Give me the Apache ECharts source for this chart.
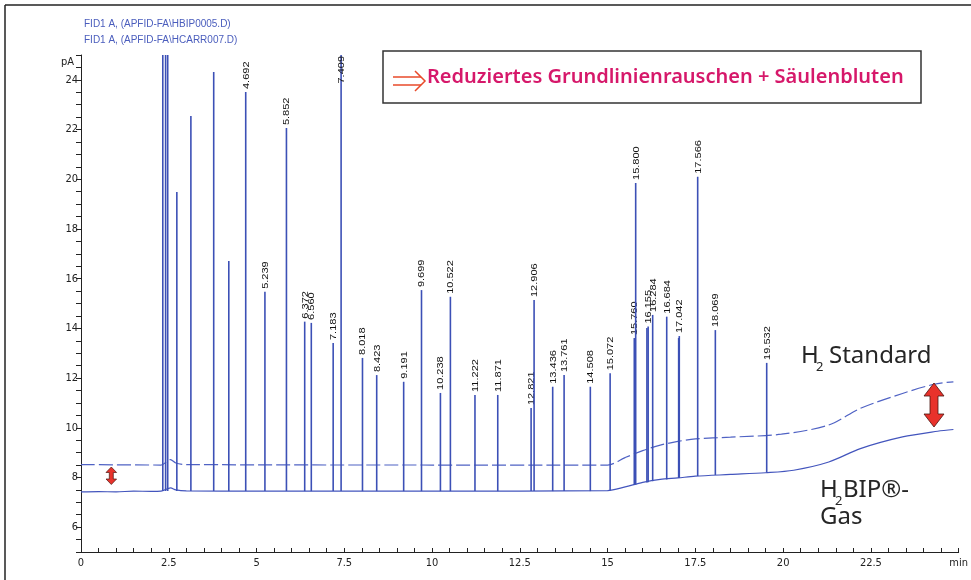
<!DOCTYPE html>
<html>
<head>
<meta charset="utf-8">
<script src="https://cdn.jsdelivr.net/npm/echarts@6/dist/echarts.min.js"></script>
<style>
html,body{margin:0;padding:0;background:#fff;}
#chart{width:971px;height:580px;}
</style>
</head>
<body>
<div id="chart"></div>
<script>
// ---- data ----
const legendLines = ['FID1 A, (APFID-FA\\HBIP0005.D)', 'FID1 A, (APFID-FA\\HCARR007.D)'];
const xTickValues = [0, 2.5, 5, 7.5, 10, 12.5, 15, 17.5, 20, 22.5, 25];
const xTickLabels = ['0', '2.5', '5', '7.5', '10', '12.5', '15', '17.5', '20', '22.5', 'min'];
const yTickLabels = ['6', '8', '10', '12', '14', '16', '18', '20', '22', '24'];

// baseline of the H2 BIP gas trace (solid)
const bipTimes = [0, 0.5, 1.0, 1.5, 2.0, 2.28, 2.55, 2.7, 3.0, 5, 10, 15.0, 15.5, 16.0, 16.5, 17.0, 17.5, 18.5, 19.5, 20.3, 21.3, 22.2, 23.4, 24.4, 24.85];
const bipValues = [7.42, 7.43, 7.42, 7.45, 7.44, 7.45, 7.58, 7.5, 7.46, 7.45, 7.45, 7.47, 7.62, 7.8, 7.92, 7.98, 8.05, 8.12, 8.19, 8.29, 8.62, 9.16, 9.63, 9.86, 9.93];

// baseline of the H2 standard trace (dashed)
const stdTimes = [0, 2.28, 2.55, 2.7, 3.0, 10, 15.0, 15.5, 16.0, 16.5, 17.0, 17.5, 18.5, 19.95, 21.3, 22.2, 23.4, 24.3, 24.85];
const stdValues = [8.52, 8.5, 8.72, 8.58, 8.52, 8.5, 8.5, 8.8, 9.08, 9.3, 9.45, 9.55, 9.62, 9.74, 10.11, 10.78, 11.38, 11.75, 11.85];

// peaks: retention time, apex (pA), foot (pA), label
const peakTimes = [2.33, 2.41, 2.47, 2.73, 3.13, 3.78, 4.21, 4.692, 5.239, 5.852, 6.372, 6.560, 7.183, 7.409, 8.018, 8.423, 9.191, 9.699, 10.238, 10.522, 11.222, 11.871, 12.821, 12.906, 13.436, 13.761, 14.508, 15.072, 15.760, 15.800, 16.120, 16.155, 16.284, 16.684, 17.024, 17.042, 17.566, 18.069, 19.532];
const peakTops = [26, 26, 26, 19.49, 22.55, 24.32, 16.71, 23.51, 15.47, 22.06, 14.27, 14.22, 13.41, 26, 12.81, 12.12, 11.85, 15.54, 11.40, 15.27, 11.32, 11.32, 10.79, 15.14, 11.65, 12.12, 11.65, 12.19, 13.61, 19.85, 14.01, 14.07, 14.54, 14.47, 13.61, 13.69, 20.10, 13.93, 12.61];
const peakFeet = [7.45, 7.45, 7.45, 7.45, 7.45, 7.45, 7.45, 7.45, 7.45, 7.45, 7.45, 7.45, 7.45, 7.45, 7.45, 7.45, 7.45, 7.45, 7.45, 7.45, 7.45, 7.45, 7.45, 7.45, 7.45, 7.45, 7.45, 7.47, 7.7, 7.72, 7.8, 7.81, 7.85, 7.92, 7.98, 7.98, 8.06, 8.1, 8.2];
const peakLabels = [null, null, null, null, null, null, null, '4.692', '5.239', '5.852', '6.372', '6.560', '7.183', '7.409', '8.018', '8.423', '9.191', '9.699', '10.238', '10.522', '11.222', '11.871', '12.821', '12.906', '13.436', '13.761', '14.508', '15.072', '15.760', '15.800', null, '16.155', '16.284', '16.684', null, '17.042', '17.566', '18.069', '19.532'];

const Y_MIN = 5, Y_MAX = 25, X_MIN = 0, X_MAX = 25;

// ---- build ----
const bipData = bipTimes.map((t, i) => [t, bipValues[i]]);
const stdData = stdTimes.map((t, i) => [t, stdValues[i]]);
const peakData = peakTimes.map((t, i) => [t, peakTops[i], peakFeet[i]]);

const chart = echarts.init(document.getElementById('chart'), null, {renderer: 'canvas'});
const axisFont = "'Liberation Sans Narrow', 'DejaVu Sans Condensed', 'Liberation Sans', Arial, sans-serif";
const labelFont = "'Liberation Sans', Arial, sans-serif";
const textFont = "'Noto Sans', 'Open Sans', sans-serif";

function arrowPoints(cx, top, bottom, headHalf, shaftHalf, headH) {
  return [[cx, top], [cx + headHalf, top + headH], [cx + shaftHalf, top + headH], [cx + shaftHalf, bottom - headH],
          [cx + headHalf, bottom - headH], [cx, bottom], [cx - headHalf, bottom - headH], [cx - shaftHalf, bottom - headH],
          [cx - shaftHalf, top + headH], [cx - headHalf, top + headH]];
}
function word(x, y, text, size) {
  return {type: 'text', x: x, y: y, style: {text: text, fill: '#262626', font: size + 'px ' + textFont, verticalAlign: 'middle'}};
}

const option = {
  animation: false,
  backgroundColor: '#ffffff',
  grid: {left: 81, right: 10, top: 55, bottom: 28},
  xAxis: {
    type: 'value', min: X_MIN, max: X_MAX, interval: 2.5,
    axisLine: {show: true, onZero: false, lineStyle: {color: '#222', width: 1}},
    axisTick: {show: true, inside: true, length: 4, lineStyle: {color: '#222'}},
    minorTick: {show: true, splitNumber: 5, length: 4, lineStyle: {color: '#222'}},
    splitLine: {show: false},
    axisLabel: {
      margin: 6, color: '#222', fontSize: 11, fontFamily: axisFont,
      formatter: v => { const k = xTickValues.indexOf(v); return k >= 0 ? xTickLabels[k] : ''; }
    }
  },
  yAxis: {
    type: 'value', min: Y_MIN, max: Y_MAX, interval: 1,
    axisLine: {show: true, onZero: false, lineStyle: {color: '#222', width: 1}},
    axisTick: {show: true, length: 5, lineStyle: {color: '#222'}},
    minorTick: {show: true, splitNumber: 2, length: 5, lineStyle: {color: '#222'}},
    splitLine: {show: false},
    axisLabel: {
      margin: 3, color: '#222', fontSize: 11, fontFamily: axisFont,
      formatter: v => yTickLabels.indexOf(String(v)) >= 0 ? String(v) : ''
    }
  },
  series: [
    {
      name: 'H2 Standard', type: 'line', data: stdData, showSymbol: false, smooth: 0.3,
      lineStyle: {color: '#4f62c4', width: 1.2, type: [14, 4]}, z: 2
    },
    {
      name: 'H2 BIP', type: 'line', data: bipData, showSymbol: false, smooth: 0.3,
      lineStyle: {color: '#4355bd', width: 1.2}, z: 2
    },
    {
      name: 'peaks', type: 'custom', data: peakData, encode: {x: 0, y: [1, 2]}, z: 3,
      renderItem: function (params, api) {
        const i = params.dataIndex;
        const t = api.value(0);
        const rawTop = api.value(1);
        const top = Math.min(rawTop, Y_MAX);
        const foot = api.value(2);
        const p0 = api.coord([t, foot]);
        const p1 = api.coord([t, top]);
        const children = [{
          type: 'line',
          shape: {x1: p0[0], y1: p0[1], x2: p1[0], y2: p1[1]},
          style: {stroke: '#3c50b6', lineWidth: 1.6}
        }];
        const lab = peakLabels[i];
        if (lab) {
          const off = rawTop > Y_MAX;
          children.push({
            type: 'text', x: p1[0] + 0.5, y: off ? p1[1] + 1 : p1[1] - 3,
            rotation: Math.PI / 2, scaleY: 0.8,
            style: {text: lab, align: off ? 'right' : 'left', verticalAlign: 'middle',
                    fill: '#111', font: '11px ' + labelFont}
          });
        }
        return {type: 'group', children: children};
      }
    }
  ],
  graphic: [
    // outer frame (top and left)
    {type: 'line', shape: {x1: 5, y1: 5, x2: 971, y2: 5}, style: {stroke: '#222', lineWidth: 1.5}},
    {type: 'line', shape: {x1: 5, y1: 5, x2: 5, y2: 580}, style: {stroke: '#222', lineWidth: 1.5}},
    // trace legend
    {type: 'text', x: 84, y: 24.5, style: {text: legendLines[0], fill: '#4a5dbd', font: '10px ' + labelFont, verticalAlign: 'middle'}},
    {type: 'text', x: 84, y: 40, style: {text: legendLines[1], fill: '#4a5dbd', font: '10px ' + labelFont, verticalAlign: 'middle'}},
    // y unit
    {type: 'text', x: 74, y: 62, style: {text: 'pA', fill: '#222', font: '11px ' + axisFont, align: 'right', verticalAlign: 'middle'}},
    // annotation box
    {type: 'rect', shape: {x: 383, y: 51, width: 538, height: 52}, style: {fill: '#fff', stroke: '#333', lineWidth: 1.5}, z: 10},
    {type: 'line', shape: {x1: 393, y1: 77, x2: 421, y2: 77}, style: {stroke: '#e84a2a', lineWidth: 1.5}, z: 11},
    {type: 'line', shape: {x1: 393, y1: 85, x2: 421, y2: 85}, style: {stroke: '#e84a2a', lineWidth: 1.5}, z: 11},
    {type: 'polyline', shape: {points: [[415, 71], [425, 81], [415, 91]]}, style: {stroke: '#e84a2a', lineWidth: 1.5, fill: null}, z: 11},
    {type: 'text', x: 427, y: 77, style: {text: 'Reduziertes Grundlinienrauschen + Säulenbluten', fill: '#d6186a', font: '600 20px ' + textFont, verticalAlign: 'middle'}, z: 11},
    // trace names
    word(801, 356, 'H', 24),
    word(816, 367, '2', 13),
    word(829, 356, 'Standard', 24),
    word(820, 490, 'H', 24),
    word(835, 501, '2', 13),
    word(843, 490, 'BIP®-', 24),
    word(820, 517, 'Gas', 24),
    // red double arrows
    {type: 'polygon', shape: {points: arrowPoints(934, 383, 427, 10, 4, 13)}, style: {fill: '#e8322b', stroke: '#4a1510', lineWidth: 0.8}, z: 12},
    {type: 'polygon', shape: {points: arrowPoints(111.3, 467, 484.5, 5.3, 2, 5.5)}, style: {fill: '#e8322b', stroke: '#4a1510', lineWidth: 0.7}, z: 12}
  ]
};
chart.setOption(option);
</script>
</body>
</html>
